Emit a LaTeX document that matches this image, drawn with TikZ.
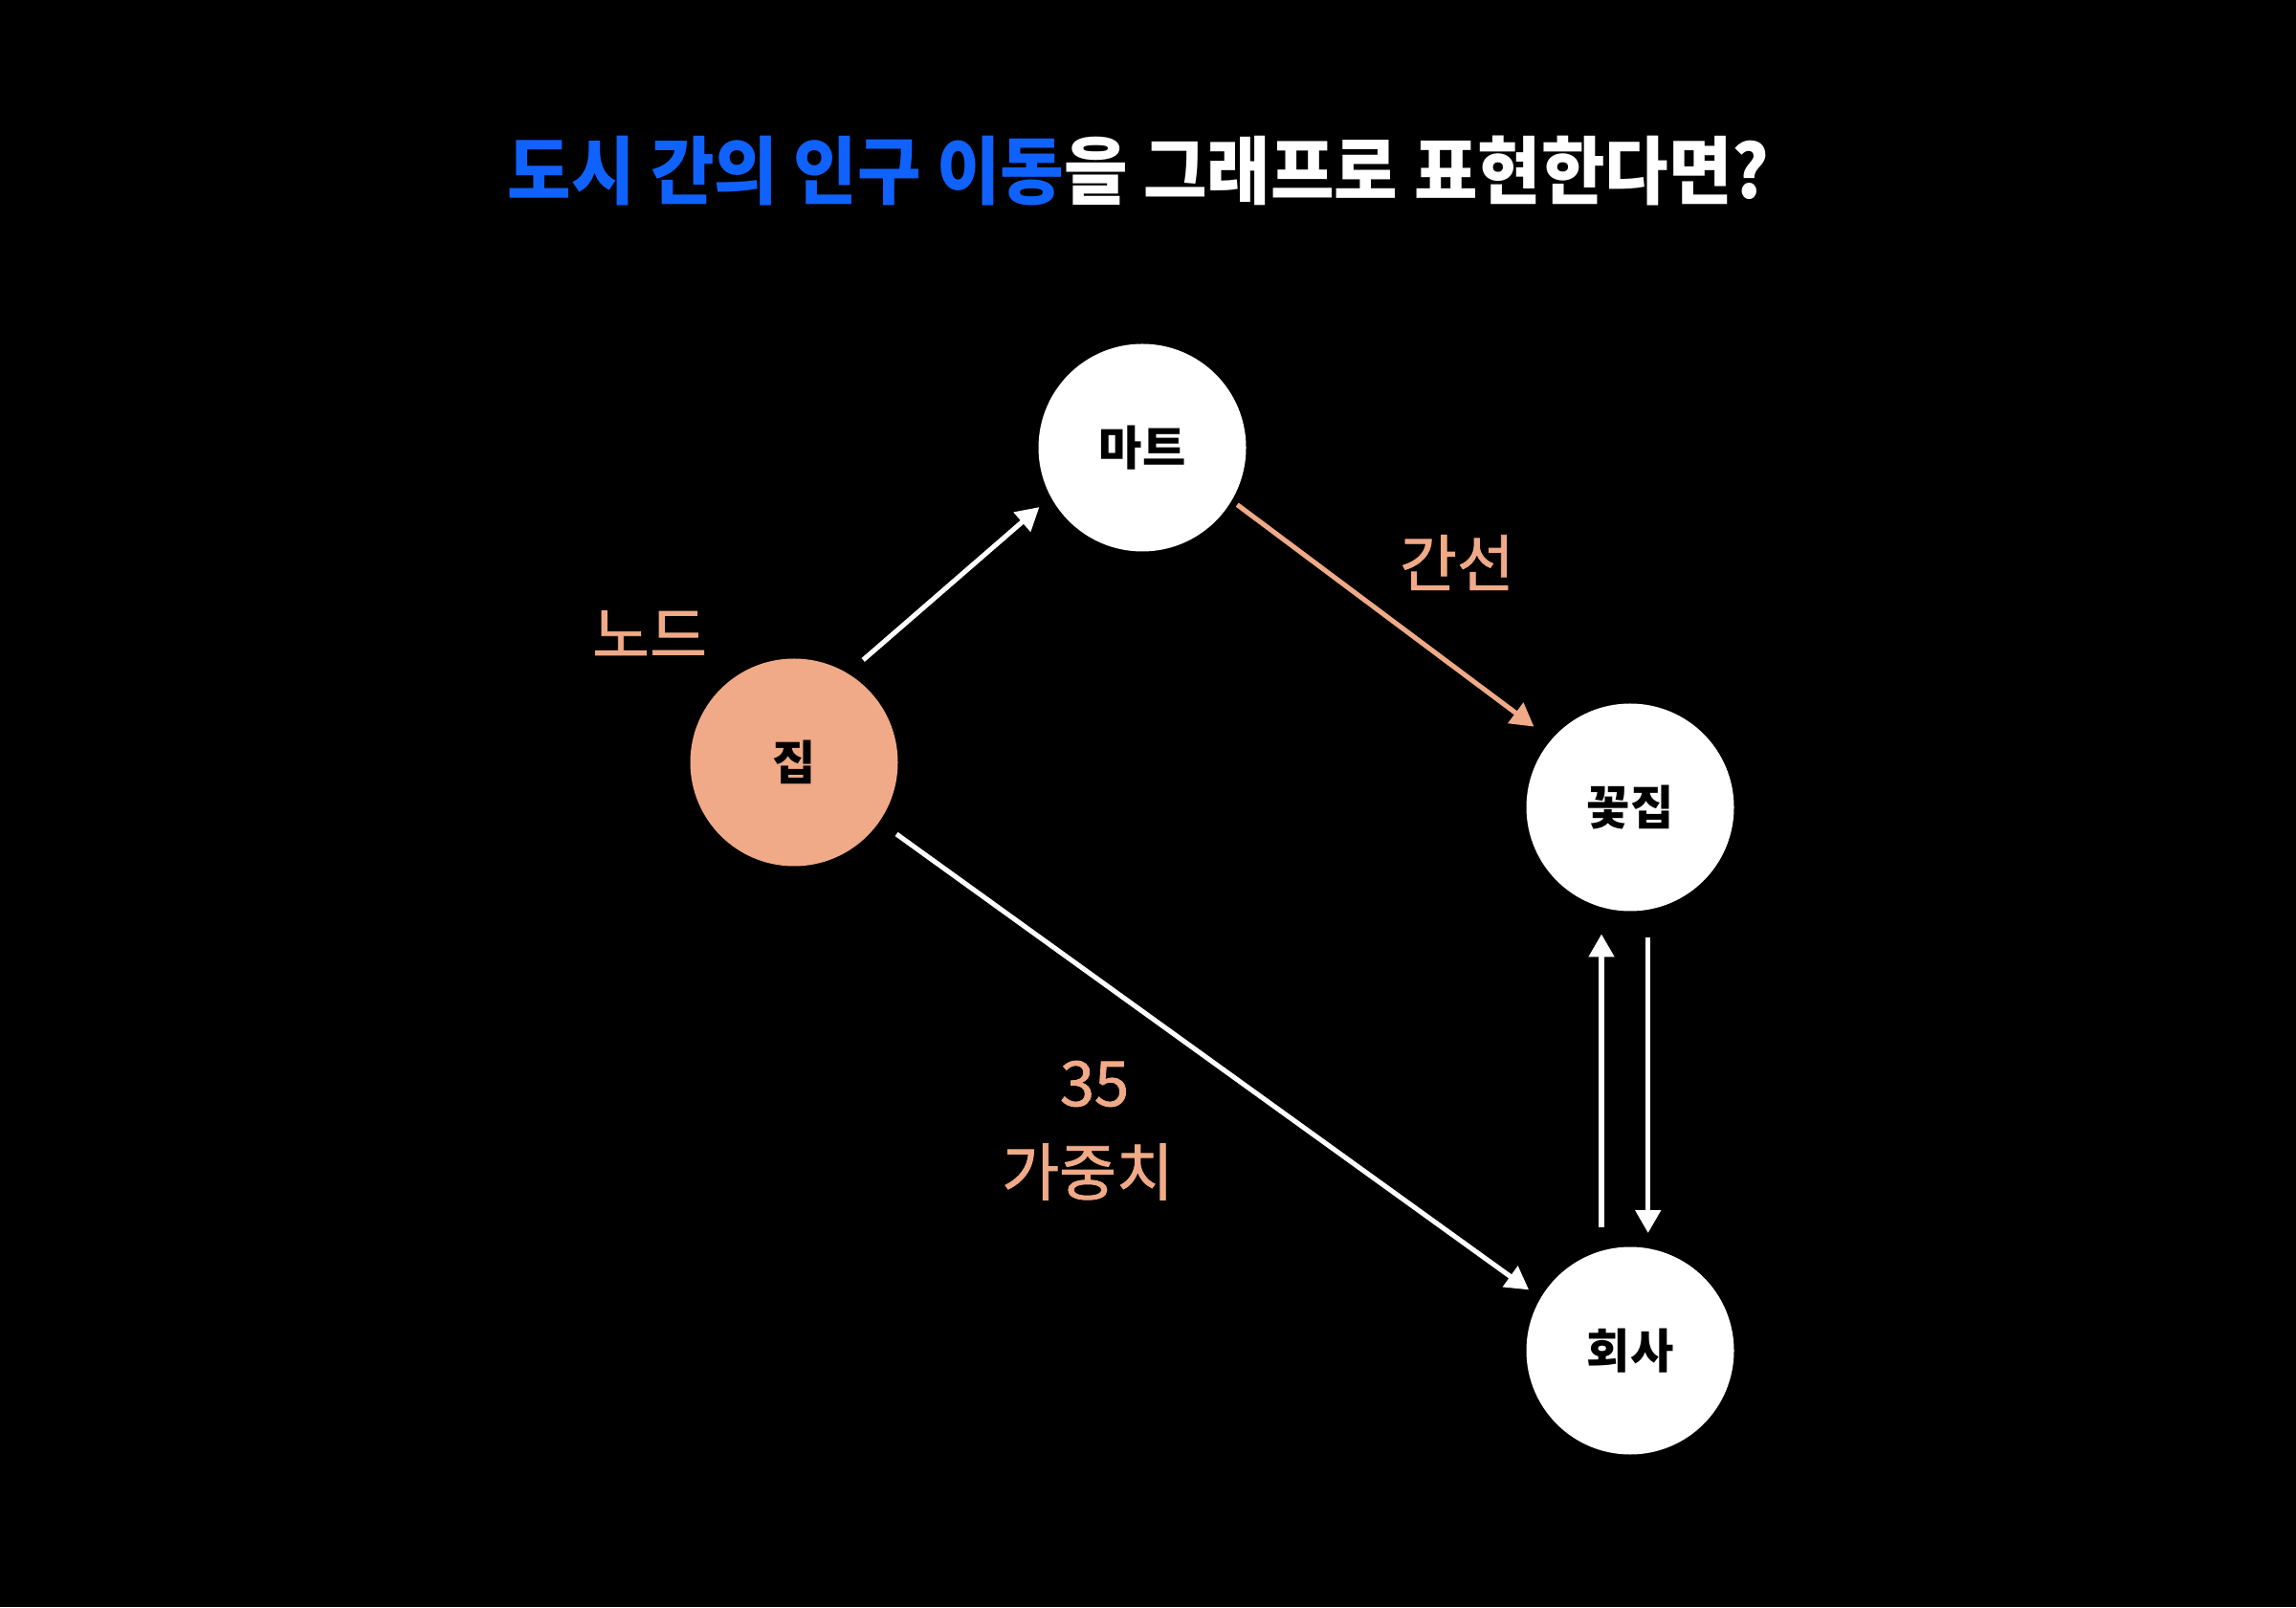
\documentclass[tikz,border=0pt]{standalone}
\usepackage{fontspec}
\setmainfont{Noto Sans CJK KR}
\newfontfamily\lblfont{Noto Sans CJK KR}[FakeBold=1.3]
\usetikzlibrary{arrows.meta,calc}
\definecolor{salmon}{RGB}{240,170,135}
\definecolor{titleblue}{RGB}{16,98,254}
\tikzset{
  vertex/.style={circle,fill=white,minimum size=2.17cm,inner sep=0pt,outer sep=0pt,font=\fontsize{14}{16}\selectfont\bfseries,text=black},
  arr/.style={line width=1.45pt,draw=white,-{Triangle[length=0.24cm,width=0.26cm]}},
  lbl/.style={text=salmon,font=\lblfont\fontsize{18.5}{22}\selectfont,inner sep=0pt},
}
\begin{document}
\begin{tikzpicture}
\fill[black] (0,0) rectangle (24,16.8);
\useasboundingbox (0,0) rectangle (24,16.8);
\node[font=\fontsize{22}{26}\selectfont\bfseries,text=white,inner sep=0pt] (title) at (11.90,15.01)
  {\scalebox{0.935}[1]{\textcolor{titleblue}{도시 간의 인구 이동}을 그래프로 표현한다면?}};
\node[vertex] (mart) at (11.94,12.12) {마트};
\node[vertex,fill=salmon] (jip) at (8.30,8.83) {집};
\node[vertex] (kkot) at (17.04,8.36) {꽃집};
\node[vertex] (hoesa) at (17.04,2.68) {회사};
\draw[arr] ($(jip)!1.19!(jip.56)$) -- ($(mart)!1.145!(mart.210.5)$);
\draw[arr,draw=salmon] ($(mart)!1.067!(mart.-31)$) -- ($(kkot)!1.21!(kkot.140)$);
\draw[arr] ($(jip)!1.205!(jip.-35)$) -- ($(hoesa)!1.139!(hoesa.149)$);
\draw[arr] ([shift={(-0.30,0.21)}]hoesa.north) -- ([shift={(-0.30,-0.24)}]kkot.south);
\draw[arr] ([shift={(0.187,-0.28)}]kkot.south) -- ([shift={(0.187,0.145)}]hoesa.north);
\node[lbl] (node) at (6.79,10.17) {노드};
\node[lbl] (edge) at (15.23,10.92) {간선};
\node[lbl] (w35) at (11.44,5.47) {35};
\node[lbl] (weight) at (11.37,4.55) {가중치};
\end{tikzpicture}
\end{document}
